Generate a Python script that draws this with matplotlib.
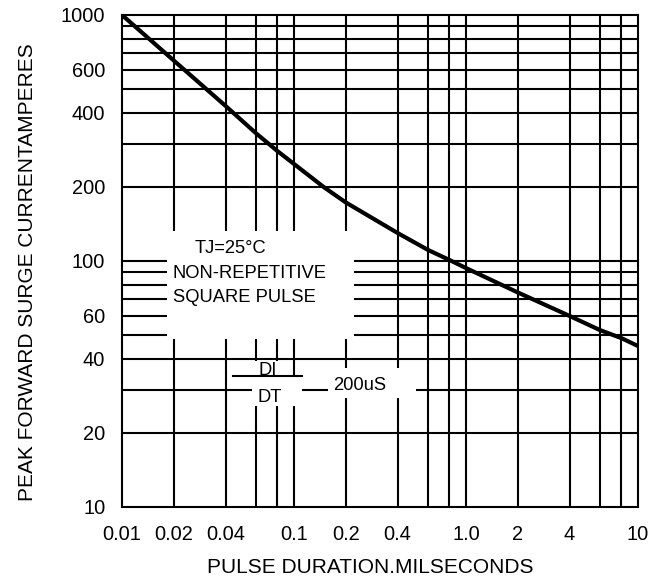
import matplotlib
matplotlib.use("Agg")
import matplotlib.pyplot as plt
from matplotlib.patches import Rectangle
from matplotlib.lines import Line2D
from matplotlib.ticker import NullLocator, FixedLocator, FixedFormatter

plt.rcParams['font.family'] = ['Liberation Sans', 'DejaVu Sans']

# ---- data ----
pulse_ms = [0.01, 0.02, 0.04, 0.06, 0.08, 0.1, 0.15, 0.2, 0.4, 0.6, 0.8, 1.0, 2, 4, 6, 8, 10]
peak_amps = [1000, 653, 427, 331, 280, 248, 199, 173, 130, 111, 101, 93.6, 74.5, 59.8, 52.4, 48.6, 45.1]

x_ticks = [0.01, 0.02, 0.04, 0.1, 0.2, 0.4, 1.0, 2, 4, 10]
x_tick_labels = ["0.01", "0.02", "0.04", "0.1", "0.2", "0.4", "1.0", "2", "4", "10"]
y_ticks = [10, 20, 40, 60, 100, 200, 400, 600, 1000]
y_tick_labels = ["10", "20", "40", "60", "100", "200", "400", "600", "1000"]

x_grid = [0.02, 0.04, 0.06, 0.08, 0.1, 0.2, 0.4, 0.6, 0.8, 1.0, 2, 4, 6, 8]
y_grid = [20, 30, 40, 50, 60, 70, 80, 90, 100, 200, 300, 400, 500, 600, 700, 800, 900]

note_lines = ["TJ=25°C", "NON-REPETITIVE", "SQUARE PULSE"]
x_label = "PULSE DURATION.MILSECONDS"
y_label = "PEAK FORWARD SURGE CURRENTAMPERES"

# ---- figure ----
W, H = 668, 578
fig = plt.figure(figsize=(W / 100, H / 100), dpi=100)
L, R, T, B = 122, 638, 15, 507
ax = fig.add_axes([L / W, (H - B) / H, (R - L) / W, (B - T) / H])
ax.set_xscale('log')
ax.set_yscale('log')
ax.set_xlim(0.01, 10)
ax.set_ylim(10, 1000)

for xv in x_grid:
    ax.axvline(xv, color='black', lw=1.5, zorder=1)
for yv in y_grid:
    ax.axhline(yv, color='black', lw=1.5, zorder=1)

ax.plot(pulse_ms, peak_amps, color='black', lw=3.0, zorder=4,
        solid_capstyle='butt', solid_joinstyle='round')

for s in ax.spines.values():
    s.set_linewidth(1.5)
    s.set_zorder(5)

ax.xaxis.set_major_locator(FixedLocator(x_ticks))
ax.xaxis.set_major_formatter(FixedFormatter(x_tick_labels))
ax.xaxis.set_minor_locator(NullLocator())
ax.yaxis.set_major_locator(FixedLocator(y_ticks))
ax.yaxis.set_major_formatter(FixedFormatter(y_tick_labels))
ax.yaxis.set_minor_locator(NullLocator())
ax.tick_params(axis='both', which='both', length=0, labelsize=14.4)
ax.tick_params(axis='x', pad=13)
ax.tick_params(axis='y', pad=12)


def px_to_ax(px, py):
    return (px - L) / (R - L), (B - py) / (B - T)


def white_box(x0, y0, x1, y1):
    ax0, ay1 = px_to_ax(x0, y0)
    ax1, ay0 = px_to_ax(x1, y1)
    ax.add_patch(Rectangle((ax0, ay0), ax1 - ax0, ay1 - ay0, transform=ax.transAxes,
                           facecolor='white', edgecolor='none', zorder=2))


def label(px, py, s, ha='left'):
    fx, fy = px_to_ax(px, py)
    ax.text(fx, fy, s, transform=ax.transAxes, ha=ha, va='baseline',
            fontsize=13.2, color='black', zorder=6)


# note box
white_box(167, 231, 354, 339)
label(195, 253, note_lines[0])
label(173, 278, note_lines[1])
label(173, 302, note_lines[2])

# DI / DT 200uS
white_box(249, 361, 290, 377)
white_box(252, 377, 302, 406)
white_box(328, 368, 416, 398)
label(267.5, 375, "DI", ha='center')
label(269.5, 402, "DT", ha='center')
label(333, 390, "200uS")
bx0, by = px_to_ax(233, 376)
bx1, _ = px_to_ax(302, 376)
ax.add_line(Line2D([bx0, bx1], [by, by], transform=ax.transAxes, color='black',
                   lw=1.5, zorder=6))

fig.text(370 / W, (H - 573) / H, x_label, ha='center', va='baseline', fontsize=15)
fig.text(28 / W, (H - 272) / H, y_label, ha='center', va='center', rotation=90,
         fontsize=15)

fig.savefig("out.png", dpi=100)
